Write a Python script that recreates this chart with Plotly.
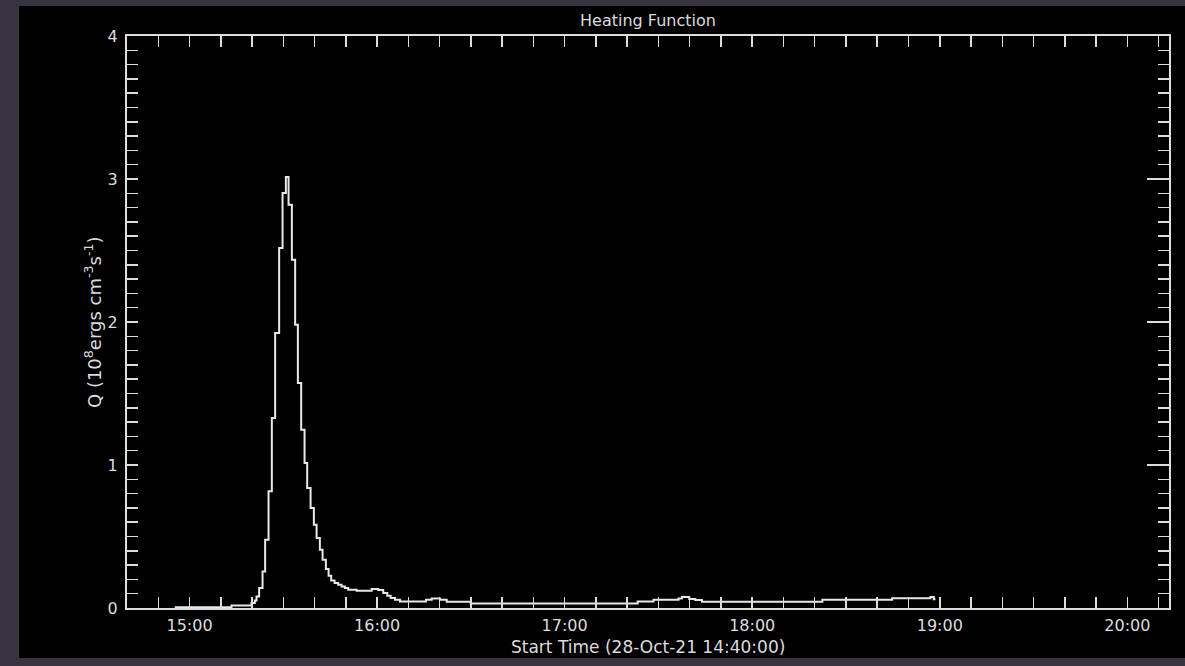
import pandas as pd
import plotly.graph_objects as go

# ---- data ----
start_time = "2021-10-28 14:40:00"
# step edges, minutes after start time (len = n+1)
t_edges_min = [15.27, 33.43, 39.83, 40.89, 41.43, 42.27, 43.36, 44.19, 45.28, 46.33,
               47.39, 48.67, 49.76, 50.82, 51.68, 52.74, 53.79, 54.66, 55.72, 56.80,
               57.64, 58.73, 59.78, 60.65, 61.70, 62.57, 63.62, 64.49, 65.32, 66.41,
               67.56, 68.65, 69.71, 70.77, 73.45, 78.26, 80.37, 81.97, 83.25, 84.34,
               85.72, 87.32, 95.65, 97.47, 100.13, 102.27, 109.96, 163.37, 168.43, 176.43,
               177.52, 179.86, 181.78, 183.93, 222.45, 244.76, 257.03, 258.09, 258.63]
# heating function Q (1e8 ergs cm^-3 s^-1), one value per step
q_values = [0.006, 0.018, 0.035, 0.053, 0.081, 0.140, 0.256, 0.478, 0.816, 1.329,
            1.923, 2.517, 2.902, 3.014, 2.820, 2.436, 1.981, 1.573, 1.247, 1.014,
            0.839, 0.699, 0.583, 0.490, 0.408, 0.338, 0.273, 0.226, 0.193, 0.175,
            0.163, 0.151, 0.140, 0.128, 0.121, 0.133, 0.126, 0.105, 0.086, 0.070,
            0.058, 0.046, 0.058, 0.067, 0.058, 0.044, 0.032, 0.046, 0.058, 0.067,
            0.077, 0.063, 0.056, 0.044, 0.058, 0.068, 0.077, 0.062]
x_range = ["2021-10-28 14:40:00", "2021-10-28 20:13:20"]
y_range = [0, 4]
title_text = "Heating Function"
x_title = "Start Time (28-Oct-21 14:40:00)"
y_title = "Q (10<sup>8</sup>ergs cm<sup>-3</sup>s<sup>-1</sup>)"

# ---- build ----
t0 = pd.Timestamp(start_time)
x = [t0 + pd.Timedelta(minutes=m) for m in t_edges_min]
y = q_values + [q_values[-1]]

FG = "#dcdcdc"
OUTER = "#37343f"
FONT = "DejaVu Sans"

fig = go.Figure()
fig.add_trace(go.Scatter(x=x, y=y, mode="lines", line=dict(color="#e8e8e8", width=2, shape="hv"),
                         showlegend=False, hoverinfo="skip"))
fig.add_trace(go.Scatter(x=x, y=y, mode="lines", line=dict(width=0), yaxis="y2",
                         showlegend=False, hoverinfo="skip", opacity=0))

W, H = 1185, 666
L, R, T, B = 127, 16, 36, 58
pw, ph = W - L - R, H - T - B

def px_x(px):
    return (px - L) / pw

def px_y(py):
    return (H - B - py) / ph

fig.update_layout(
    width=W, height=H,
    margin=dict(l=L, r=R, t=T, b=B),
    paper_bgcolor=OUTER,
    plot_bgcolor="black",
    font=dict(family=FONT, color=FG, size=16),
    title=dict(text=title_text, x=0.5, xref="paper", y=1 - 20 / H, yanchor="middle",
               font=dict(size=16, color=FG)),
    shapes=[dict(type="rect", xref="paper", yref="paper",
                 x0=px_x(19), x1=px_x(W + 5), y0=px_y(658), y1=px_y(6),
                 fillcolor="black", line=dict(width=0), layer="below")],
    annotations=[
        dict(text=x_title, xref="paper", yref="paper", x=0.5, y=px_y(647),
             xanchor="center", yanchor="middle", showarrow=False, font=dict(size=17, color=FG)),
        dict(text=y_title, xref="paper", yref="paper", x=px_x(93), y=0.5, textangle=-90,
             xanchor="center", yanchor="middle", showarrow=False, font=dict(size=18, color=FG)),
    ],
    xaxis=dict(
        type="date", range=x_range, showgrid=False, zeroline=False,
        showline=True, linecolor=FG, linewidth=2, mirror="allticks",
        ticks="inside", ticklen=11, tickwidth=1.5, tickcolor=FG,
        tick0="2021-10-28 15:00:00", dtick=3600000, tickformat="%H:%M",
        ticklabelstandoff=2,
        minor=dict(dtick=600000, ticks="inside", ticklen=6, tickwidth=1.5, tickcolor=FG, showgrid=False),
    ),
    yaxis=dict(
        range=y_range, showgrid=False, zeroline=False,
        showline=True, linecolor=FG, linewidth=2, mirror=False,
        ticks="inside", ticklen=11, tickwidth=1.5, tickcolor=FG,
        tick0=0, dtick=1, ticklabelstandoff=4,
        minor=dict(dtick=0.1, ticks="inside", ticklen=11, tickwidth=1.5, tickcolor=FG, showgrid=False),
    ),
    yaxis2=dict(
        range=y_range, overlaying="y", side="right", anchor="x",
        showgrid=False, zeroline=False, showticklabels=False,
        showline=True, linecolor=FG, linewidth=2,
        ticks="inside", ticklen=22, tickwidth=1.5, tickcolor=FG, tick0=0, dtick=1,
        minor=dict(dtick=0.1, ticks="inside", ticklen=11, tickwidth=1.5, tickcolor=FG, showgrid=False),
    ),
)

fig.write_html("out.html",
               config={"displayModeBar": False, "staticPlot": True},
               post_script="document.body.style.margin='0px';"
                           "document.body.style.background='" + OUTER + "';")
